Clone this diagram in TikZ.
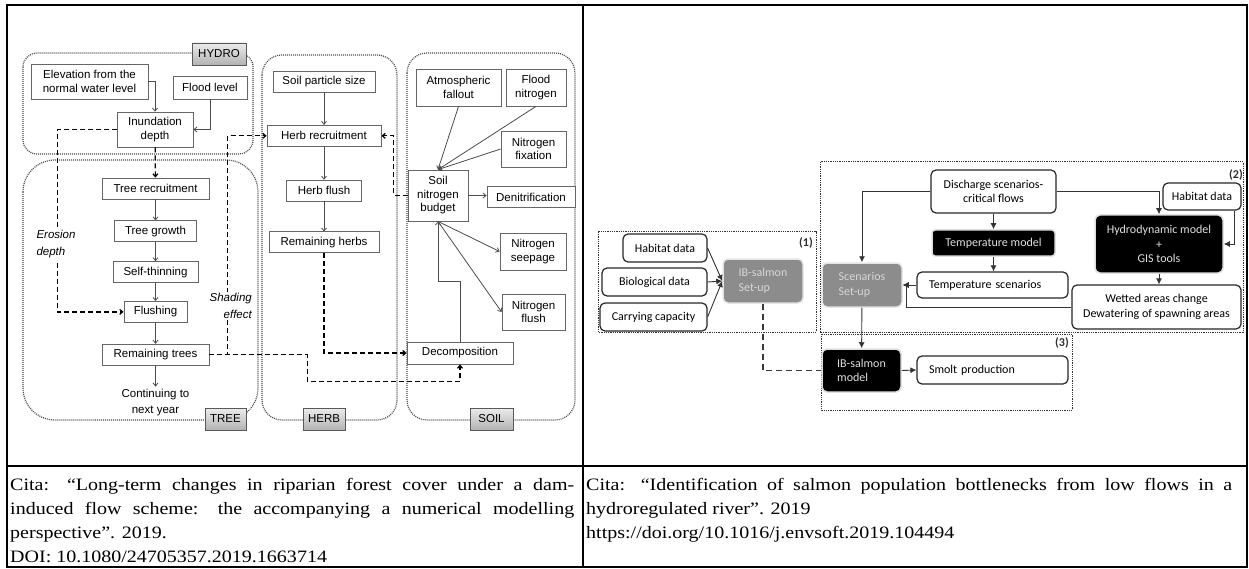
\documentclass[tikz,border=0pt]{standalone}
\usepackage{fontspec}
\setmainfont{Liberation Serif}
\newfontfamily\forestfont{Liberation Sans}
\newfontfamily\salmonfont{Carlito}
\newfontfamily\citefont{Liberation Serif}[FakeStretch=1.15]
\usetikzlibrary{arrows.meta, positioning, calc}
\definecolor{setupgray}{RGB}{140,140,140}
\definecolor{setuptext}{RGB}{215,215,215}

\begin{document}
\begin{tikzpicture}[
    x=1pt, y=-1pt,
    node distance=20pt,
    box/.style={rectangle, draw=gray!80!black, line width=0.8pt, fill=white,
                minimum height=21pt, inner sep=2pt,
                font=\forestfont\fontsize{11.5}{13.5}\selectfont, align=center},
    tag/.style={rectangle, draw=gray!70!black, top color=gray!15, bottom color=gray!60,
                minimum height=22pt, inner sep=2pt,
                font=\forestfont\fontsize{11.5}{13.5}\selectfont},
    group/.style={draw=gray!60!black, line width=1.2pt, dash pattern=on 1pt off 1pt},
    arr/.style={->, >={Straight Barb[length=3pt, width=5pt]}, draw=gray!60!black, line width=0.8pt},
    darr/.style={->, >={Straight Barb[length=3pt, width=5pt]}, line width=1.2pt,
                 dash pattern=on 5pt off 3pt},
    note/.style={font=\forestfont\itshape\fontsize{11.5}{17}\selectfont, fill=white, inner sep=1pt},
    sbox/.style={rectangle, rounded corners=5pt, draw=black!85, line width=1.2pt, fill=white,
                 font=\salmonfont\fontsize{12}{14.5}\selectfont, align=center, inner sep=2pt},
    lbox/.style={sbox, align=left},
    dbox/.style={sbox, fill=black, draw=gray!25, line width=1.5pt, text=white!88!black, align=left},
    gbox/.style={sbox, fill=setupgray, draw=gray!20, line width=1.5pt, text=setuptext, align=left},
    sgroup/.style={draw=black!80, line width=1pt, dash pattern=on 1pt off 0.8pt},
    sarr/.style={-{Latex[length=6pt, width=6pt]}, draw=gray!40!black, line width=0.9pt},
    sdash/.style={draw=gray!45!black, line width=1.3pt, dash pattern=on 6pt off 4pt},
    num/.style={font=\salmonfont\bfseries\fontsize{12}{14}\selectfont, text=gray!35!black, inner sep=1pt},
    cite/.style={font=\citefont\fontsize{17.4}{24}\selectfont, inner sep=0pt, anchor=base west}
]
  \useasboundingbox (0,0) rectangle (1249,569);

  % table
  \draw[line width=2.5pt] (7,5) rectangle (1247,567);
  \draw[line width=2.5pt] (7,466) -- (1247,466);
  \draw[line width=2.5pt] (583,5) -- (583,567);

  % ---- riparian forest model ----
  \draw[group, rounded corners=14pt] (23,53) rectangle (253,154);
  \draw[group, rounded corners=32pt] (23,160) rectangle (258,420);
  \draw[group, rounded corners=20pt] (262,55) rectangle (397,420);
  \draw[group, rounded corners=20pt] (407,53) rectangle (575,420);

  \node[tag, minimum width=54pt] (hydro) at (219,54)    {HYDRO};
  \node[tag, minimum width=41pt] (tree)  at (225.5,419) {TREE};
  \node[tag, minimum width=42pt] (herb)  at (324,419)   {HERB};
  \node[tag, minimum width=43pt] (soil)  at (491.5,419) {SOIL};

  \node[box, minimum width=117pt, minimum height=35pt] (elev)  at (89.5,81.5) {Elevation from the\\normal water level};
  \node[box, minimum width=74pt, minimum height=23pt]  (flood) at (210,87.5)  {Flood level};
  \node[box, minimum width=76pt, minimum height=35pt]  (inund) at (155,129.5) {Inundation\\depth};

  \node[box, minimum width=107pt] (treerec) at (155.5,188.5) {Tree recruitment};
  \node[box, minimum width=82pt, below=21pt of treerec]  (treegrow) {Tree growth};
  \node[box, minimum width=85pt, below=19pt of treegrow] (selfthin) {Self-thinning};
  \node[box, minimum width=63pt, below=18pt of selfthin] (flushing) {Flushing};
  \node[box, minimum width=107pt, below=21pt of flushing] (remtrees) {Remaining trees};
  \node[font=\forestfont\fontsize{11.5}{16}\selectfont, align=center, inner sep=2pt,
        below=21pt of remtrees] (cont) {Continuing to\\next year};

  \node[box, minimum width=102pt] (soilsize) at (324,82) {Soil particle size};
  \node[box, minimum width=114pt, below=32pt of soilsize]  (herbrec)   {Herb recruitment};
  \node[box, minimum width=75pt,  below=33pt of herbrec]   (herbflush) {Herb flush};
  \node[box, minimum width=110pt, below=30pt of herbflush] (remherbs)  {Remaining herbs};

  \node[box, minimum width=85pt, minimum height=37pt] (atmos)  at (458.5,87.5) {Atmospheric\\fallout};
  \node[box, minimum width=60pt, minimum height=37pt] (floodN) at (536,87.5)   {Flood\\nitrogen};
  \node[box, minimum width=65pt, minimum height=36pt] (fixN)   at (533.5,149)  {Nitrogen\\fixation};
  \node[box, minimum width=60pt, minimum height=51pt] (budget) at (438,195.5)  {Soil\\nitrogen\\budget};
  \node[box, minimum width=88pt]                      (denit)  at (531,197)    {Denitrification};
  \node[box, minimum width=66pt, minimum height=37pt] (seep)   at (533,251.5)  {Nitrogen\\seepage};
  \node[box, minimum width=63pt, minimum height=36pt] (flushN) at (533.5,312)  {Nitrogen\\flush};
  \node[box, minimum width=106pt, minimum height=22pt] (decomp) at (460,353)   {Decomposition};

  \draw[arr] (elev.east) -| (inund.north);
  \draw[arr] (flood.south) |- (inund.east);
  \draw[darr] (inund) -- (treerec);
  \foreach \a/\b in {treerec/treegrow, treegrow/selfthin, selfthin/flushing,
                     flushing/remtrees, remtrees/cont}
    \draw[arr] (\a) -- (\b);
  \foreach \a/\b in {soilsize/herbrec, herbrec/herbflush, herbflush/remherbs}
    \draw[arr] (\a) -- (\b);

  \draw[darr] (inund.west) -| ($(flushing.west)+(-66,0)$) -- (flushing.west);
  \node[note, align=left] (erosion) at (56,244) {Erosion\\depth};
  \draw[darr] (remtrees.east) -| ($(herbrec.west)+(-39,0)$) -- (herbrec.west);
  \node[note, align=right, anchor=east] (shading) at (253,306) {Shading\\effect};
  \draw[darr] (remtrees.east) -| ++(98,26.5) -| (decomp.south);
  \draw[darr] (remherbs.south) |- (decomp.west);
  \draw[darr] (budget.west) -- ++(-14,0) |- (herbrec.east);

  \draw[arr] (atmos.south) -- (budget.north);
  \draw[arr] (floodN.south) -- (budget.north);
  \draw[arr] (fixN.west) -- (budget.north);
  \draw[arr] (budget.east) -- (budget.east -| denit.west);
  \draw[arr] (budget.south) -- (seep.west);
  \draw[arr] (budget.south) -- (flushN.west);
  \draw[arr] (decomp.north) -- ++(0,-60) -| (budget.south);

  % ---- salmon bottleneck model ----
  \draw[sgroup] (598,232) rectangle (816,332);
  \draw[sgroup] (820,162) rectangle (1243,332);
  \draw[sgroup] (821,334) rectangle (1072,410);
  \node[num] (n1) at (806,243) {(1)};
  \node[num] (n2) at (1236,175) {(2)};
  \node[num] (n3) at (1062,343) {(3)};

  \node[sbox, minimum width=84pt, minimum height=28pt]  (habA)  at (665,248)   {Habitat data};
  \node[sbox, minimum width=105pt, minimum height=28pt] (bio)   at (654.5,282) {Biological data};
  \node[sbox, minimum width=107pt, minimum height=28pt] (carry) at (653.5,317) {Carrying capacity};
  \node[gbox, minimum width=80pt, minimum height=44pt]  (ibset) at (763,281)   {IB-salmon\\Set-up};

  \node[sbox, minimum width=125pt, minimum height=43pt] (disch) at (993.5,191.5) {Discharge scenarios-\\critical flows};
  \node[dbox, minimum width=123pt, minimum height=26pt, rounded corners=3pt] (tempm) at (993.5,243) {Temperature model};
  \node[lbox, minimum width=151pt, minimum height=26pt, text width=127pt] (temps) at (992.5,285) {Temperature scenarios};
  \node[sbox, minimum width=78pt, minimum height=27pt]  (habB)  at (1202,196.5) {Habitat data};
  \node[dbox, minimum width=128pt, minimum height=58pt, align=center] (hydromod) at (1159,244) {Hydrodynamic model\\+\\GIS tools};
  \node[sbox, minimum width=169pt, minimum height=44pt] (wet)   at (1156.5,307) {Wetted areas change\\Dewatering of spawning areas};
  \node[gbox, minimum width=80pt, minimum height=44pt]  (scen)  at (862,285)    {Scenarios\\Set-up};
  \node[dbox, minimum width=79pt, minimum height=43pt]  (ibmod) at (861.5,370.5) {IB-salmon\\model};
  \node[lbox, minimum width=151pt, minimum height=28pt, text width=127pt] (smolt) at (992.5,370) {Smolt production};

  \draw[sarr] (habA.east) -- (ibset.west);
  \draw[sarr] (bio.east) -- (ibset.west);
  \draw[sarr] (carry.east) -- (ibset.west);
  \draw[sarr] (disch.west) -| (scen.north);
  \draw[sarr] (disch.east) -| (hydromod.north);
  \draw[sarr] (disch) -- (tempm);
  \draw[sarr] (tempm) -- (tempm |- temps.north);
  \draw[sarr] (temps.west) -- (scen.east);
  \draw[sarr] ($(habB.south east)+(-7,0)$) |- (hydromod.east);
  \draw[sarr] (hydromod.south) -- (hydromod.south |- wet.north);
  \draw[sarr] (wet.west) -| ($(scen.east)+(4,0)$) -- (scen.east);
  \draw[sarr] (scen) -- (ibmod);
  \draw[sarr] (ibmod.east) -- (smolt.west);
  \draw[sdash] (ibset.south) |- (ibmod.west);

  % ---- citations ----
  \node[cite] (citeA1) at (10,490) {\makebox[564pt][s]{Cita: “Long-term changes in riparian forest cover under a dam-}};
  \node[cite] (citeA2) at (10,514) {\makebox[564pt][s]{induced flow scheme: the accompanying a numerical modelling}};
  \node[cite] (citeA3) at (10,538) {perspective”. 2019.};
  \node[cite] (citeA4) at (10,562) {DOI: 10.1080/24705357.2019.1663714};
  \node[cite] (citeB1) at (586,490) {\makebox[646pt][s]{Cita: “Identification of salmon population bottlenecks from low flows in a}};
  \node[cite] (citeB2) at (586,514) {hydroregulated river”. 2019};
  \node[cite] (citeB3) at (586,538) {https://doi.org/10.1016/j.envsoft.2019.104494};
\end{tikzpicture}
\end{document}
